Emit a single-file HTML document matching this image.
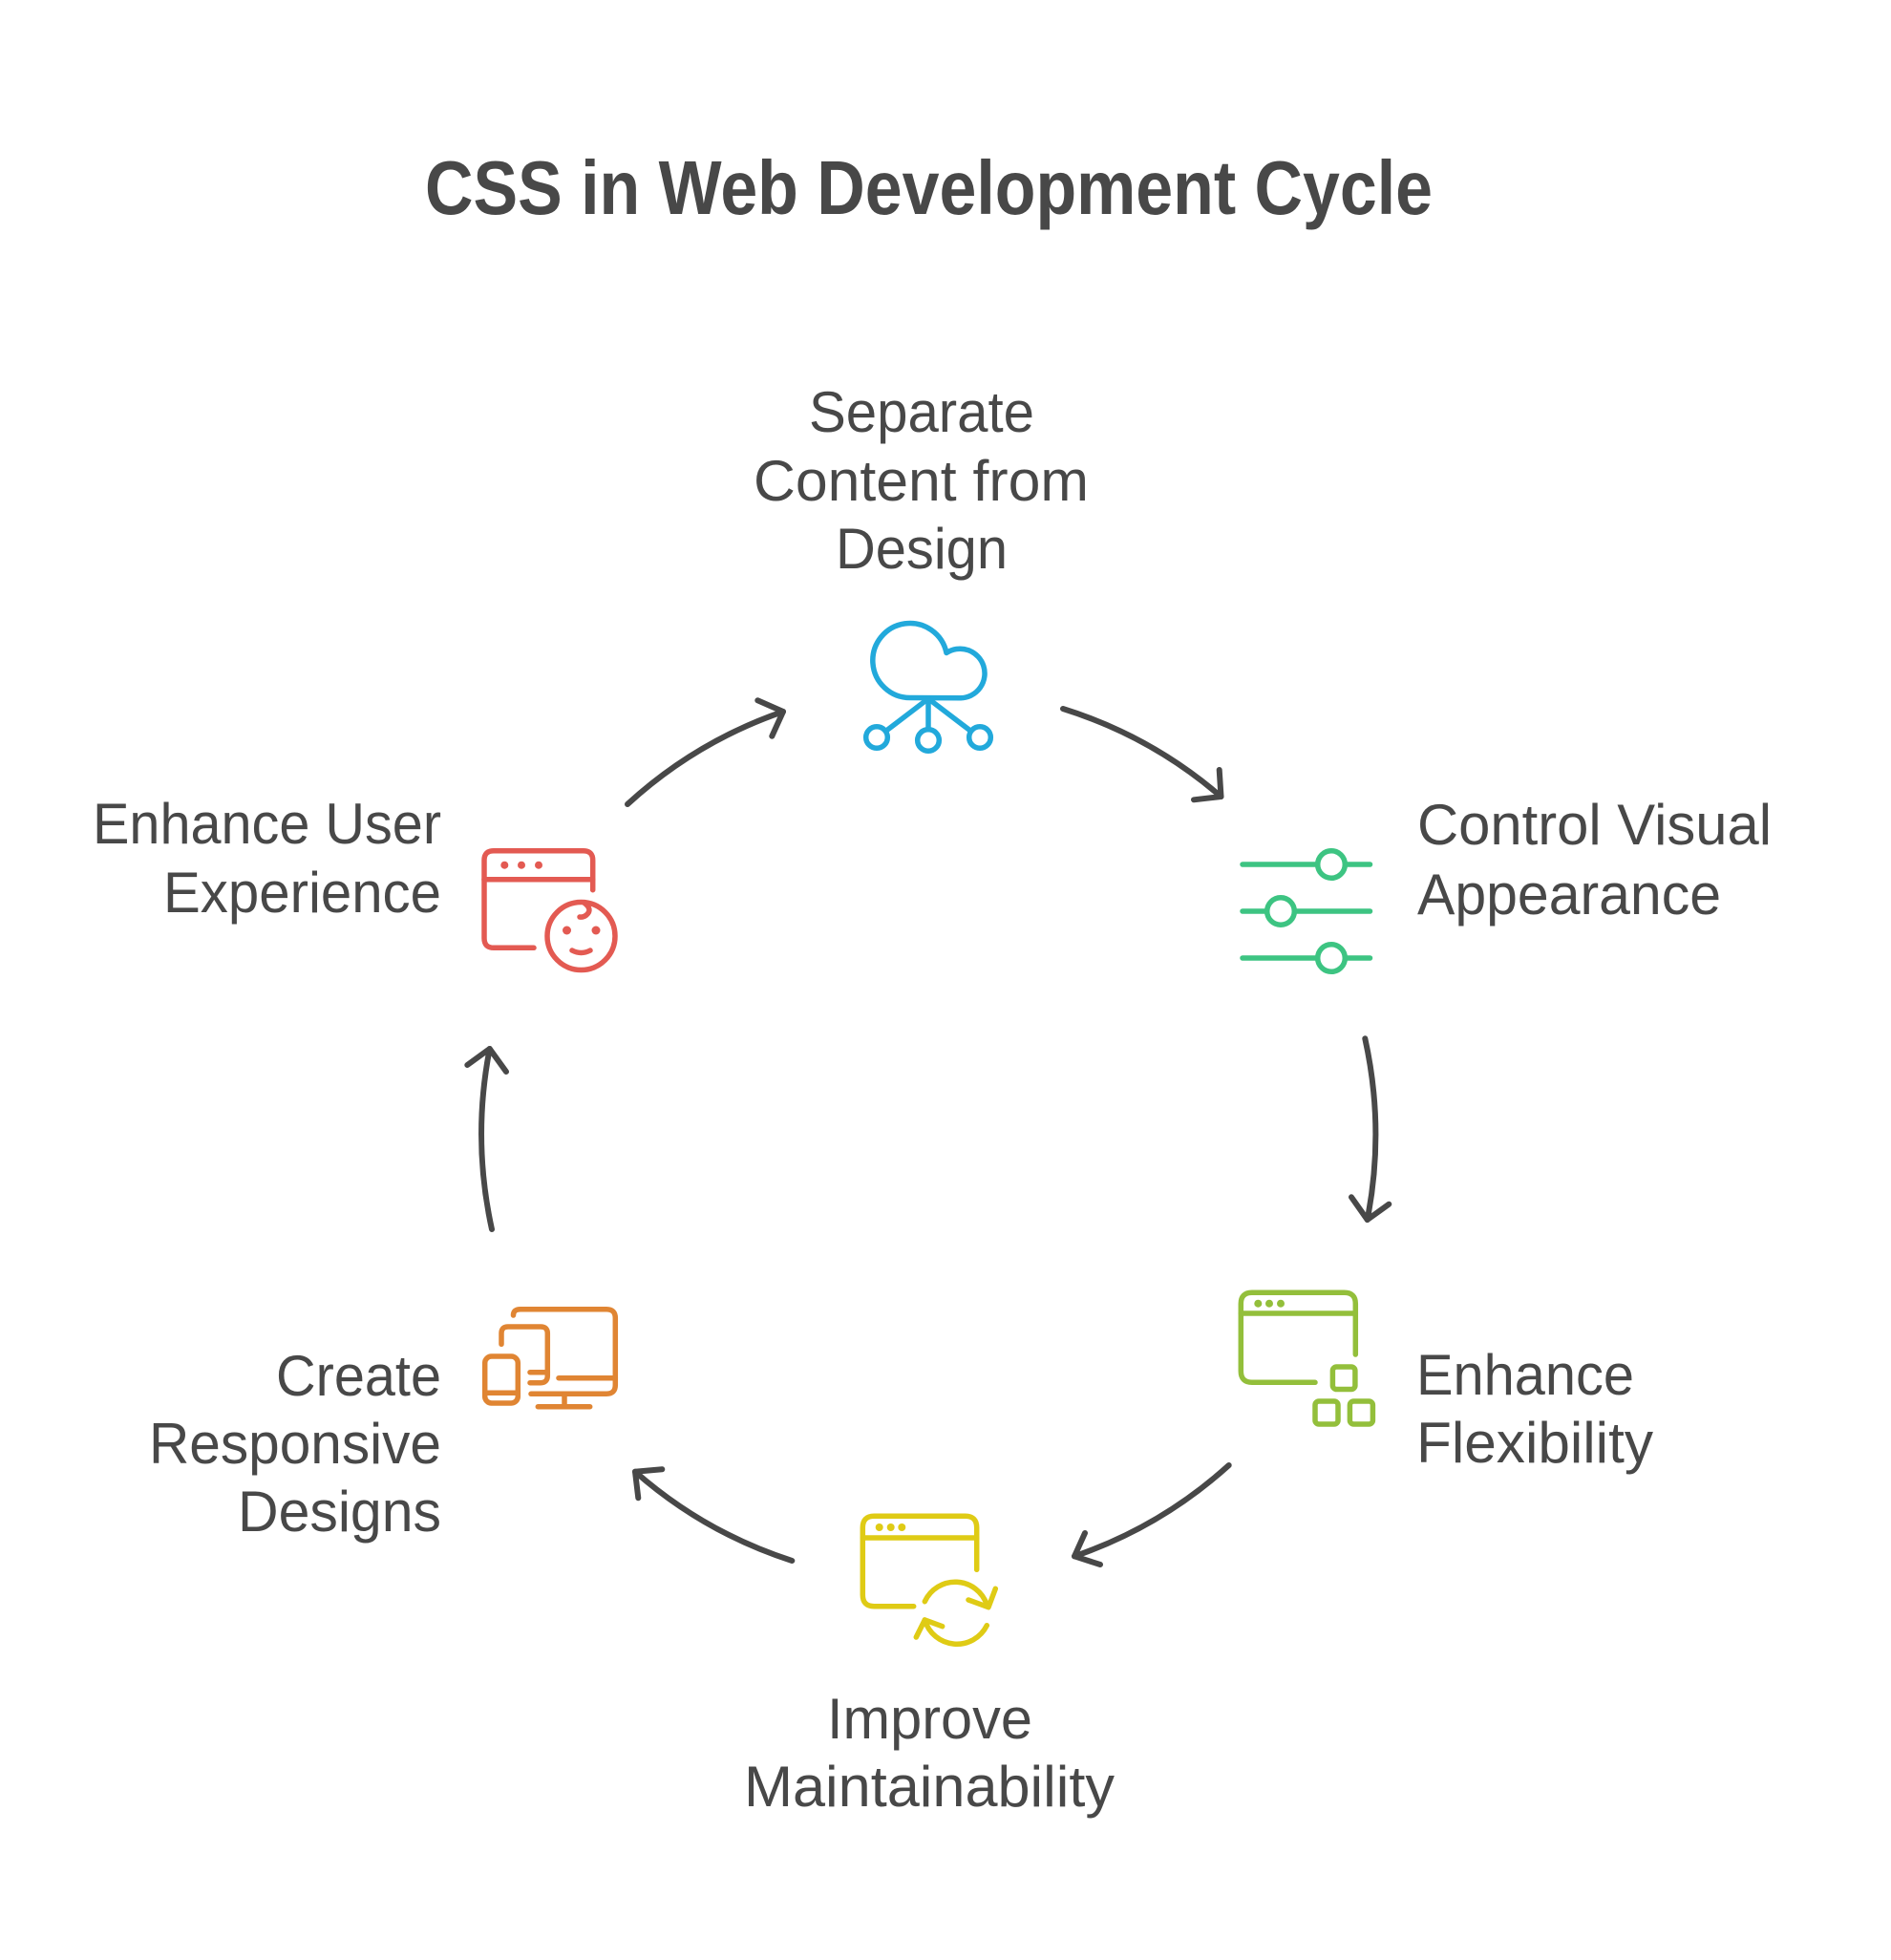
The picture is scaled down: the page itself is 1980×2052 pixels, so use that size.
<!DOCTYPE html>
<html>
<head>
<meta charset="utf-8">
<style>
  html, body { margin: 0; padding: 0; background: #ffffff; }
  body { width: 1980px; height: 2052px; overflow: hidden; }
  svg { display: block; }
  .lbl { font-family: "Liberation Sans", Arial, sans-serif; font-size: 60px; fill: #484848; }
  .ttl { font-family: "Liberation Sans", Arial, sans-serif; font-size: 80px; font-weight: bold; fill: #484848; }
  .arr { fill: none; stroke: #484848; stroke-width: 6; stroke-linecap: round; stroke-linejoin: round; }
  .ic { fill: none; stroke-width: 5.5; stroke-linecap: round; stroke-linejoin: round; }
</style>
</head>
<body>
<svg width="1980" height="2052" viewBox="0 0 1980 2052" xmlns="http://www.w3.org/2000/svg">
  <rect width="1980" height="2052" fill="#ffffff"/>

  <!-- Title -->
  <text class="ttl" x="445" y="224" textLength="1055" lengthAdjust="spacingAndGlyphs">CSS in Web Development Cycle</text>

  <!-- Top label -->
  <text class="lbl" x="847" y="452" textLength="236" lengthAdjust="spacingAndGlyphs">Separate</text>
  <text class="lbl" x="789" y="524" textLength="351" lengthAdjust="spacingAndGlyphs">Content from</text>
  <text class="lbl" x="875" y="595" textLength="180" lengthAdjust="spacingAndGlyphs">Design</text>

  <!-- Right upper label -->
  <text class="lbl" x="1484" y="884" textLength="371" lengthAdjust="spacingAndGlyphs">Control Visual</text>
  <text class="lbl" x="1484" y="957" textLength="318" lengthAdjust="spacingAndGlyphs">Appearance</text>

  <!-- Right lower label -->
  <text class="lbl" x="1483" y="1460" textLength="228" lengthAdjust="spacingAndGlyphs">Enhance</text>
  <text class="lbl" x="1483" y="1531" textLength="248" lengthAdjust="spacingAndGlyphs">Flexibility</text>

  <!-- Bottom label -->
  <text class="lbl" x="866" y="1820" textLength="215" lengthAdjust="spacingAndGlyphs">Improve</text>
  <text class="lbl" x="779" y="1891" textLength="388" lengthAdjust="spacingAndGlyphs">Maintainability</text>

  <!-- Left lower label -->
  <text class="lbl" x="289" y="1461" textLength="173" lengthAdjust="spacingAndGlyphs">Create</text>
  <text class="lbl" x="156" y="1532" textLength="306" lengthAdjust="spacingAndGlyphs">Responsive</text>
  <text class="lbl" x="249" y="1603" textLength="213" lengthAdjust="spacingAndGlyphs">Designs</text>

  <!-- Left upper label -->
  <text class="lbl" x="97" y="883" textLength="365" lengthAdjust="spacingAndGlyphs">Enhance User</text>
  <text class="lbl" x="171" y="955" textLength="291" lengthAdjust="spacingAndGlyphs">Experience</text>

  <!-- Arrows -->
  <!-- top-left -->
  <path class="arr" d="M 657 842 A 466 466 0 0 1 820 745"/>
  <polyline class="arr" points="793.3,733.3 820,745 808.3,770.7"/>
  <!-- top-right -->
  <path class="arr" d="M 1113 742 A 466 466 0 0 1 1278.5 834"/>
  <polyline class="arr" points="1276.7,806 1278.5,834 1250,837.3"/>
  <!-- right -->
  <path class="arr" d="M 1429.3 1087.3 A 466 466 0 0 1 1431.7 1277"/>
  <polyline class="arr" points="1415,1253.3 1431.7,1277 1454.3,1260.7"/>
  <!-- bottom-right -->
  <path class="arr" d="M 1286.7 1534 A 466 466 0 0 1 1125 1629.3"/>
  <polyline class="arr" points="1136,1605 1125,1629.3 1152,1638"/>
  <!-- bottom-left -->
  <path class="arr" d="M 829.3 1634 A 466 466 0 0 1 665 1540.7"/>
  <polyline class="arr" points="693.3,1538.3 665,1540.7 668.3,1568.3"/>
  <!-- left -->
  <path class="arr" d="M 515 1287 A 466 466 0 0 1 512.7 1098"/>
  <polyline class="arr" points="489.3,1115 512.7,1098 530,1122"/>

  <!-- Cloud icon (blue) -->
  <g class="ic" stroke="#22A9DB">
    <path d="M 953 730.5 A 39 39 0 1 1 991 683.5 A 25.8 25.8 0 1 1 1006 730.8 Z"/>
    <line x1="972" y1="731" x2="972" y2="763"/>
    <line x1="970" y1="733" x2="928" y2="765"/>
    <line x1="974" y1="733" x2="1016" y2="765"/>
    <circle cx="918" cy="772" r="11.3" fill="#ffffff"/>
    <circle cx="972" cy="775" r="11.3" fill="#ffffff"/>
    <circle cx="1026" cy="772" r="11.3" fill="#ffffff"/>
  </g>

  <!-- Sliders icon (green) -->
  <g class="ic" stroke="#3DC482">
    <line x1="1301" y1="905" x2="1434.5" y2="905"/>
    <line x1="1301" y1="954" x2="1434.5" y2="954"/>
    <line x1="1301" y1="1003" x2="1434.5" y2="1003"/>
    <circle cx="1394" cy="905" r="14.3" fill="#ffffff"/>
    <circle cx="1341" cy="954" r="14.3" fill="#ffffff"/>
    <circle cx="1394" cy="1003" r="14.3" fill="#ffffff"/>
  </g>

  <!-- Flexibility icon (lime green) -->
  <g class="ic" stroke="#93BF3B">
    <path d="M 1377 1447.3 L 1311 1447.3 Q 1299.3 1447.3 1299.3 1435.5 L 1299.3 1365 Q 1299.3 1353.3 1311 1353.3 L 1407.5 1353.3 Q 1419.3 1353.3 1419.3 1365 L 1419.3 1418"/>
    <line x1="1299.3" y1="1375" x2="1419.3" y2="1375"/>
    <rect x="1395.4" y="1431" width="23.5" height="23.5" rx="4"/>
    <rect x="1377" y="1467" width="24" height="24" rx="4"/>
    <rect x="1413.4" y="1467" width="24" height="24" rx="4"/>
  </g>
  <g fill="#93BF3B">
    <circle cx="1317.3" cy="1364.7" r="4"/>
    <circle cx="1329" cy="1364.7" r="4"/>
    <circle cx="1341" cy="1364.7" r="4"/>
  </g>

  <!-- Maintainability icon (yellow) -->
  <g class="ic" stroke="#DFCB15">
    <path d="M 956.7 1681.7 L 915.3 1681.7 Q 903.3 1681.7 903.3 1669.7 L 903.3 1599.3 Q 903.3 1587.3 915.3 1587.3 L 1010.7 1587.3 Q 1022.7 1587.3 1022.7 1599.3 L 1022.7 1643.3"/>
    <line x1="903.3" y1="1610" x2="1022.7" y2="1610"/>
    <path d="M 968.3 1676.7 A 35 35 0 0 1 1033.3 1680"/>
    <polyline points="1014,1675 1035,1682.7 1042.3,1663.3"/>
    <path d="M 1033.3 1701.7 A 35 35 0 0 1 968.3 1696"/>
    <polyline points="986.7,1702.7 968.3,1696 959.3,1714"/>
  </g>
  <g fill="#DFCB15">
    <circle cx="920.7" cy="1599" r="4"/>
    <circle cx="932.7" cy="1599" r="4"/>
    <circle cx="944.3" cy="1599" r="4"/>
  </g>

  <!-- Responsive icon (orange) -->
  <g class="ic" stroke="#E08533">
    <path d="M 537.5 1377 Q 537.5 1370.7 545 1370.7 L 635 1370.7 Q 644.3 1370.7 644.3 1380 L 644.3 1450 Q 644.3 1459.3 635 1459.3 L 556 1459.3"/>
    <line x1="585" y1="1442.7" x2="644.3" y2="1442.7"/>
    <line x1="591" y1="1459.3" x2="591" y2="1472.7"/>
    <line x1="563.3" y1="1472.7" x2="617.7" y2="1472.7"/>
    <path d="M 525 1407.3 L 525 1396 Q 525 1389 532 1389 L 566 1389 Q 573.3 1389 573.3 1396 L 573.3 1440 Q 573.3 1447.7 566 1447.7 L 555 1447.7"/>
    <line x1="555" y1="1436.7" x2="573.3" y2="1436.7"/>
    <rect x="507.7" y="1420" width="34.6" height="49" rx="7"/>
    <line x1="507.7" y1="1458.3" x2="542.3" y2="1458.3"/>
  </g>

  <!-- User experience icon (red) -->
  <g class="ic" stroke="#E35A52">
    <path d="M 559 992.3 L 517 992.3 Q 507 992.3 507 982.3 L 507 900.7 Q 507 890.7 517 890.7 L 610.7 890.7 Q 620.7 890.7 620.7 900.7 L 620.7 931.7"/>
    <line x1="507" y1="920.7" x2="620.7" y2="920.7"/>
    <circle cx="608.5" cy="980" r="35.5"/>
    <path d="M 611.5 945 Q 621 952 614 958 Q 611 960.5 607 960"/>
    <path d="M 599 995 Q 608.5 1000 618 995"/>
  </g>
  <g fill="#E35A52">
    <circle cx="528.3" cy="905.7" r="4"/>
    <circle cx="546" cy="905.7" r="4"/>
    <circle cx="564" cy="905.7" r="4"/>
    <circle cx="593.5" cy="974" r="4.5"/>
    <circle cx="624" cy="974" r="4.5"/>
  </g>
</svg>
</body>
</html>
